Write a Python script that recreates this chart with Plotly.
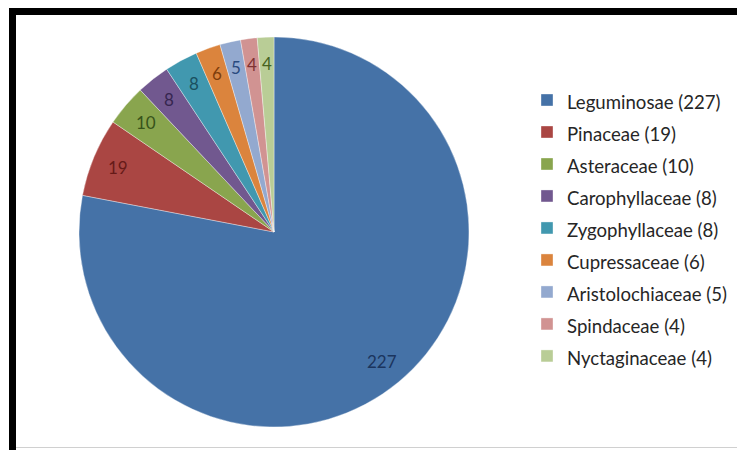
import math
import plotly.graph_objects as go

# Plant families and number of species
families = ["Leguminosae", "Pinaceae", "Asteraceae", "Carophyllaceae", "Zygophyllaceae",
            "Cupressaceae", "Aristolochiaceae", "Spindaceae", "Nyctaginaceae"]
counts = [227, 19, 10, 8, 8, 6, 5, 4, 4]

slice_colors = ["#4572A7", "#AA4643", "#89A54E", "#71588F", "#4198AF",
                "#DB843D", "#93A9CF", "#D19392", "#B9CD96"]
label_colors = ["#1B355E", "#661A18", "#37531A", "#36264F", "#1A5060",
                "#7E3D0C", "#2A4A7E", "#7E3232", "#46621F"]

W, H = 737, 450
FONT = "Lato"

dom_x = [0.1072, 0.6364]
dom_y = [0.0511, 0.9178]

legend_names = [f'<span style="font-size:18.6px">{n} ({c})</span>' for n, c in zip(families, counts)]

fig = go.Figure(go.Pie(
    labels=legend_names,
    values=counts,
    sort=False,
    direction="clockwise",
    rotation=0,
    marker=dict(colors=slice_colors, line=dict(color="rgba(255,255,255,0.6)", width=0.6)),
    textinfo="none",
    hoverinfo="label+value",
    domain=dict(x=dom_x, y=dom_y),
))

# Value labels near the outer end of each slice, at the slice's mid-angle
total = sum(counts)
cx = (dom_x[0] + dom_x[1]) / 2
cy = (dom_y[0] + dom_y[1]) / 2
radius_px = min((dom_x[1] - dom_x[0]) * W, (dom_y[1] - dom_y[0]) * H) / 2
label_r = 0.865 * radius_px
cum = 0
for val, col in zip(counts, label_colors):
    mid = (cum + val / 2) / total * 2 * math.pi
    cum += val
    fig.add_annotation(
        x=cx + label_r * math.sin(mid) / W,
        y=cy + label_r * math.cos(mid) / H,
        xref="paper", yref="paper",
        xanchor="center", yanchor="middle",
        text=str(val), showarrow=False,
        font=dict(family=FONT, size=17, color=col),
    )

# Frame: thick black edge along the top and left, faint line at the bottom
fig.add_shape(type="rect", xref="paper", yref="paper",
              x0=9 / W, x1=1, y0=1 - 15 / H, y1=1 - 8 / H,
              fillcolor="black", line=dict(width=0), layer="above")
fig.add_shape(type="rect", xref="paper", yref="paper",
              x0=9 / W, x1=16 / W, y0=0, y1=1 - 8 / H,
              fillcolor="black", line=dict(width=0), layer="above")
fig.add_shape(type="line", xref="paper", yref="paper",
              x0=16 / W, x1=1, y0=2.5 / H, y1=2.5 / H,
              line=dict(color="#d0d0d0", width=1), layer="above")

fig.update_layout(
    width=W, height=H,
    margin=dict(l=0, r=0, t=0, b=0),
    paper_bgcolor="white",
    plot_bgcolor="white",
    font=dict(family=FONT, color="#262626"),
    showlegend=True,
    legend=dict(
        x=527 / W, y=1 - 79 / H,
        xanchor="left", yanchor="top",
        font=dict(family=FONT, size=22.3, color="#262626"),
        bgcolor="rgba(0,0,0,0)",
        traceorder="normal",
    ),
)

fig.write_html("out.html")
